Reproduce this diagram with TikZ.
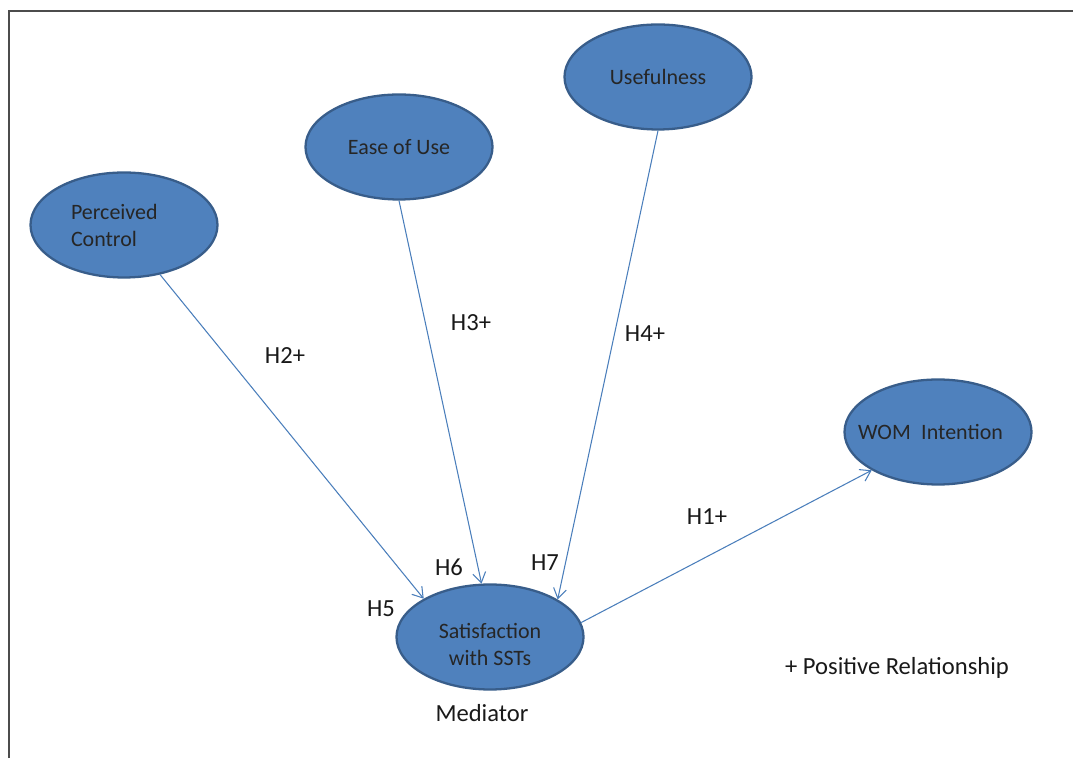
\documentclass[tikz,border=0pt]{standalone}
\usepackage{fontspec}
\setmainfont{Carlito}
\usepackage{tikz}
\usetikzlibrary{arrows.meta, positioning, shapes.geometric}
\usepackage{xcolor}
\definecolor{nodeFill}{HTML}{4F81BD}
\definecolor{nodeBorder}{HTML}{385D8A}
\definecolor{relBlue}{HTML}{4A7EBB}

\begin{document}
\begin{tikzpicture}[
    latentNode/.style={ellipse, fill=nodeFill, draw=nodeBorder, line width=1.3pt, minimum width=3.74cm, minimum height=2.1cm, inner sep=0pt, align=center, font=\fontsize{12.5}{15.4}\selectfont, text=black!85},
    hypRel/.style={-{Straight Barb[length=2mm, width=2.6mm]}, relBlue, line width=0.6pt},
    hypLabel/.style={font=\fontsize{14}{17}\selectfont, text=black!90},
    frameLine/.style={black!70, line width=1.1pt}
]
    \useasboundingbox (0,0) rectangle (21.46,15.16);

    % Frame
    \draw[frameLine] (0.18,0) -- (0.18,14.94) -- (21.46,14.94);

    % Constructs
    \node[latentNode, text width=2.12cm, align=left] (pc) at (2.48,10.66) {Perceived\\Control};
    \node[latentNode] (eou) at (7.98,12.22) {Ease of Use};
    \node[latentNode] (use) at (13.16,13.62) {Usefulness};
    \node[latentNode, inner xsep=-0.5cm] (wom) at (18.76,6.52) {WOM\hspace{0.25em} Intention\hspace{0.3cm}};
    \node[latentNode] (sat) at (9.80,2.42) {\rule{0pt}{0.6cm}Satisfaction\\with SSTs};

    % Hypotheses
    \draw[hypRel] (pc.-54) -- (sat.150);
    \draw[hypRel] (eou.south) -- (sat.99);
    \draw[hypRel] (use.south) -- (sat.29);
    \draw[hypRel] (sat.9) -- (wom.210);

    % Labels
    \node[hypLabel] (h2) at (5.70,8.04) {H2+};
    \node[hypLabel] (h3) at (9.42,8.70) {H3+};
    \node[hypLabel] (h4) at (12.90,8.48) {H4+};
    \node[hypLabel] (h1) at (14.14,4.82) {H1+};
    \node[hypLabel] (h6) at (8.98,3.82) {H6};
    \node[hypLabel] (h7) at (10.90,3.90) {H7};
    \node[hypLabel] (h5) at (7.62,2.98) {H5};
    \node[hypLabel] (med) at (9.64,0.90) {Mediator};
    \node[hypLabel] (legend) at (17.94,1.80) {+ Positive Relationship};
\end{tikzpicture}
\end{document}
